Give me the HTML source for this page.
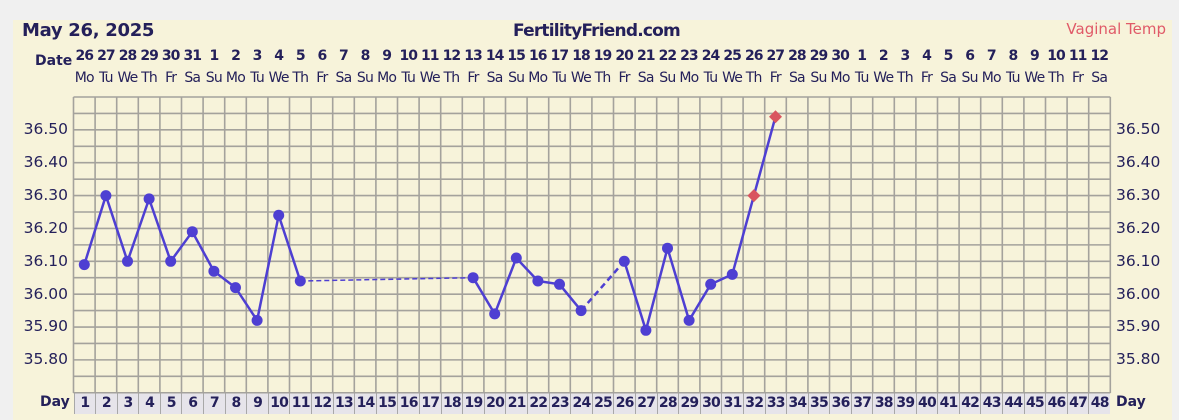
<!DOCTYPE html>
<html><head><meta charset="utf-8"><style>
body{margin:0;width:1179px;height:414px;background:#f0f0f0;overflow:hidden;font-family:"DejaVu Sans","Liberation Sans",sans-serif;color:#24205a;position:relative}
#panel{position:absolute;left:13px;top:20px;width:1159px;height:400px;background:#f7f3da}
.abs{position:absolute}
.row{position:absolute;left:73.5px;display:flex}
.row div{width:21.6px;text-align:center;flex:none}
.dn{top:48px;font-weight:bold;font-size:14px;letter-spacing:-1px}
.wd{top:70px;font-size:14px;letter-spacing:-0.8px}
.dy{top:393px;font-weight:bold;font-size:14px;letter-spacing:-0.8px}
.dy div{background:#e6e4ea;height:21px;line-height:21px;box-sizing:border-box;border-left:1px solid #a8a8a8}
.yl{position:absolute;left:0;width:68px;text-align:right;font-size:15.5px}
.yr{position:absolute;left:1116px;font-size:15.5px}
</style></head><body>
<div id="panel"></div>
<div class="abs" style="left:22px;top:20px;font-size:18px;font-weight:bold;letter-spacing:-0.3px">May 26, 2025</div>
<div class="abs" style="left:513px;top:21px;font-size:17px;font-weight:bold;letter-spacing:-0.8px">FertilityFriend.com</div>
<div class="abs" style="right:13px;top:20px;font-size:15px;color:#e05a68">Vaginal Temp</div>
<div class="abs" style="left:35px;top:53px;font-size:14px;font-weight:bold">Date</div>
<div class="abs" style="left:40px;top:394px;font-size:14px;font-weight:bold">Day</div>
<div class="abs" style="left:1116px;top:394px;font-size:14px;font-weight:bold">Day</div>
<div class="row dn"><div>26</div><div>27</div><div>28</div><div>29</div><div>30</div><div>31</div><div>1</div><div>2</div><div>3</div><div>4</div><div>5</div><div>6</div><div>7</div><div>8</div><div>9</div><div>10</div><div>11</div><div>12</div><div>13</div><div>14</div><div>15</div><div>16</div><div>17</div><div>18</div><div>19</div><div>20</div><div>21</div><div>22</div><div>23</div><div>24</div><div>25</div><div>26</div><div>27</div><div>28</div><div>29</div><div>30</div><div>1</div><div>2</div><div>3</div><div>4</div><div>5</div><div>6</div><div>7</div><div>8</div><div>9</div><div>10</div><div>11</div><div>12</div></div>
<div class="row wd"><div>Mo</div><div>Tu</div><div>We</div><div>Th</div><div>Fr</div><div>Sa</div><div>Su</div><div>Mo</div><div>Tu</div><div>We</div><div>Th</div><div>Fr</div><div>Sa</div><div>Su</div><div>Mo</div><div>Tu</div><div>We</div><div>Th</div><div>Fr</div><div>Sa</div><div>Su</div><div>Mo</div><div>Tu</div><div>We</div><div>Th</div><div>Fr</div><div>Sa</div><div>Su</div><div>Mo</div><div>Tu</div><div>We</div><div>Th</div><div>Fr</div><div>Sa</div><div>Su</div><div>Mo</div><div>Tu</div><div>We</div><div>Th</div><div>Fr</div><div>Sa</div><div>Su</div><div>Mo</div><div>Tu</div><div>We</div><div>Th</div><div>Fr</div><div>Sa</div></div>
<div class="row dy"><div>1</div><div>2</div><div>3</div><div>4</div><div>5</div><div>6</div><div>7</div><div>8</div><div>9</div><div>10</div><div>11</div><div>12</div><div>13</div><div>14</div><div>15</div><div>16</div><div>17</div><div>18</div><div>19</div><div>20</div><div>21</div><div>22</div><div>23</div><div>24</div><div>25</div><div>26</div><div>27</div><div>28</div><div>29</div><div>30</div><div>31</div><div>32</div><div>33</div><div>34</div><div>35</div><div>36</div><div>37</div><div>38</div><div>39</div><div>40</div><div>41</div><div>42</div><div>43</div><div>44</div><div>45</div><div>46</div><div>47</div><div>48</div></div>
<div class="yl" style="top:120px">36.50</div><div class="yr" style="top:120px">36.50</div>
<div class="yl" style="top:153px">36.40</div><div class="yr" style="top:153px">36.40</div>
<div class="yl" style="top:186px">36.30</div><div class="yr" style="top:186px">36.30</div>
<div class="yl" style="top:219px">36.20</div><div class="yr" style="top:219px">36.20</div>
<div class="yl" style="top:252px">36.10</div><div class="yr" style="top:252px">36.10</div>
<div class="yl" style="top:285px">36.00</div><div class="yr" style="top:285px">36.00</div>
<div class="yl" style="top:317px">35.90</div><div class="yr" style="top:317px">35.90</div>
<div class="yl" style="top:350px">35.80</div><div class="yr" style="top:350px">35.80</div>
<svg class="abs" style="left:0;top:0" width="1179" height="414">
<g id="grid" stroke="#a4a29c" stroke-width="1.6"></g>
<g stroke="#4e3fd2" stroke-width="2.5" fill="none">
<polyline points="84.3,264.6 105.9,195.6 127.5,261.3 149.1,198.9 170.7,261.3 192.3,231.7 213.9,271.2 235.5,287.6 257.1,320.4 278.7,215.3 300.3,281"/>
<polyline points="300.3,281 473.1,277.7" stroke-dasharray="5,3" stroke-width="1.5"/>
<polyline points="473.1,277.7 494.7,313.9 516.3,258 537.9,281 559.5,284.3 581.1,310.6"/>
<polyline points="581.1,310.6 624.3,261.3" stroke-dasharray="6,4"/>
<polyline points="624.3,261.3 645.9,330.3 667.5,248.2 689.1,320.4 710.7,284.3 732.3,274.4 753.9,195.6 775.5,116.7"/>
</g>
<g fill="#4e3fd2">
<circle cx="84.3" cy="264.6" r="5.5"/><circle cx="105.9" cy="195.6" r="5.5"/><circle cx="127.5" cy="261.3" r="5.5"/><circle cx="149.1" cy="198.9" r="5.5"/><circle cx="170.7" cy="261.3" r="5.5"/><circle cx="192.3" cy="231.7" r="5.5"/><circle cx="213.9" cy="271.2" r="5.5"/><circle cx="235.5" cy="287.6" r="5.5"/><circle cx="257.1" cy="320.4" r="5.5"/><circle cx="278.7" cy="215.3" r="5.5"/><circle cx="300.3" cy="281" r="5.5"/><circle cx="473.1" cy="277.7" r="5.5"/><circle cx="494.7" cy="313.9" r="5.5"/><circle cx="516.3" cy="258" r="5.5"/><circle cx="537.9" cy="281" r="5.5"/><circle cx="559.5" cy="284.3" r="5.5"/><circle cx="581.1" cy="310.6" r="5.5"/><circle cx="624.3" cy="261.3" r="5.5"/><circle cx="645.9" cy="330.3" r="5.5"/><circle cx="667.5" cy="248.2" r="5.5"/><circle cx="689.1" cy="320.4" r="5.5"/><circle cx="710.7" cy="284.3" r="5.5"/><circle cx="732.3" cy="274.4" r="5.5"/>
</g>
<g fill="#d9555f">
<polygon points="753.9,189.1 760.4,195.6 753.9,202.1 747.4,195.6"/>
<polygon points="775.5,110.2 782,116.7 775.5,123.2 769,116.7"/>
</g>
</svg>
<script>
var g=document.getElementById('grid'),s='';
for(var i=0;i<=48;i++){var x=73.5+21.6*i;s+='<line x1="'+x+'" y1="97" x2="'+x+'" y2="393"/>';}
for(var j=0;j<=18;j++){var y=97+16.43*j;s+='<line x1="73.5" y1="'+y+'" x2="1110.3" y2="'+y+'"/>';}
g.innerHTML=s;
</script>
</body></html>
